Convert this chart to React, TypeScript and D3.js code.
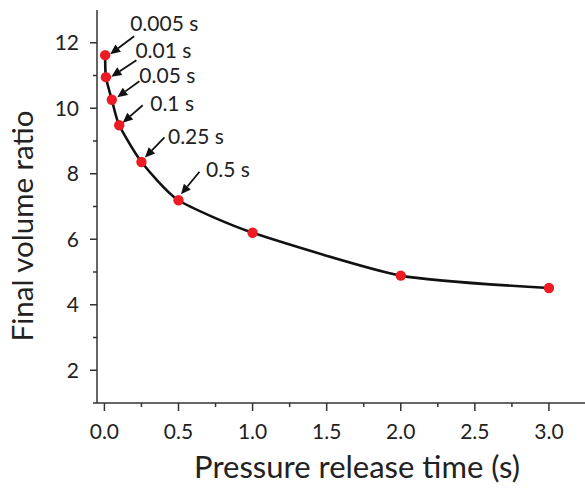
import React, { useEffect, useRef } from "react";
import * as d3 from "d3";

const times = [0.005, 0.01, 0.05, 0.1, 0.25, 0.5, 1.0, 2.0, 3.0];
const volumeRatios = [11.62, 10.95, 10.26, 9.48, 8.36, 7.19, 6.2, 4.89, 4.51];
const annotationLabels = ["0.005 s", "0.01 s", "0.05 s", "0.1 s", "0.25 s", "0.5 s"];
const xMajorTicks = [0, 0.5, 1.0, 1.5, 2.0, 2.5, 3.0];
const xMinorTicks = [0.25, 0.75, 1.25, 1.75, 2.25, 2.75];
const yMajorTicks = [2, 4, 6, 8, 10, 12];
const yMinorTicks = [1, 3, 5, 7, 9, 11];

// layout offsets (pixels) relative to each annotated point: tip, tail, text
const annotationLayout = [
  { tip: [5, -1], tail: [29, -19], text: [25, -24] },
  { tip: [5.5, -0.5], tail: [30.5, -17], text: [29.5, -19] },
  { tip: [5.5, -2.5], tail: [27.5, -18.5], text: [27.5, -17] },
  { tip: [3.5, -2.5], tail: [23.5, -20], text: [31, -14] },
  { tip: [3.5, -4.5], tail: [23, -24.5], text: [26.5, -18] },
  { tip: [2.5, -6], tail: [21, -28.5], text: [27.5, -23] },
];

const W = 585;
const H = 492;
const FONT = "Lato, 'Open Sans', sans-serif";

export default function App() {
  const ref = useRef<SVGSVGElement | null>(null);

  useEffect(() => {
    const svg = d3.select(ref.current);
    svg.selectAll("*").remove();

    const x = d3.scaleLinear().domain([-0.05, 3.25]).range([97, 586]);
    const y = d3.scaleLinear().domain([1, 13]).range([403, 10]);
    const axisColor = "#333";

    // Y axis
    svg.append("line")
      .attr("x1", x(-0.05)).attr("x2", x(-0.05))
      .attr("y1", y(13)).attr("y2", y(1))
      .attr("stroke", axisColor).attr("stroke-width", 1.5);
    svg.selectAll(".ymaj").data(yMajorTicks).enter().append("line")
      .attr("x1", x(-0.05) - 7).attr("x2", x(-0.05))
      .attr("y1", (d) => y(d)).attr("y2", (d) => y(d))
      .attr("stroke", axisColor).attr("stroke-width", 1.5);
    svg.selectAll(".ymin").data(yMinorTicks).enter().append("line")
      .attr("x1", x(-0.05) - 4).attr("x2", x(-0.05))
      .attr("y1", (d) => y(d)).attr("y2", (d) => y(d))
      .attr("stroke", axisColor).attr("stroke-width", 1.5);
    svg.selectAll(".ylab").data(yMajorTicks).enter().append("text")
      .attr("x", x(-0.05) - 18).attr("y", (d) => y(d))
      .attr("dy", "0.36em")
      .attr("text-anchor", "end")
      .attr("font-family", FONT).attr("font-size", 21).attr("fill", "#222")
      .text((d) => String(d));

    // X axis
    svg.append("line")
      .attr("x1", x(-0.05)).attr("x2", W)
      .attr("y1", y(1)).attr("y2", y(1))
      .attr("stroke", axisColor).attr("stroke-width", 1.5);
    svg.selectAll(".xmaj").data(xMajorTicks).enter().append("line")
      .attr("x1", (d) => x(d)).attr("x2", (d) => x(d))
      .attr("y1", y(1)).attr("y2", y(1) + 8)
      .attr("stroke", axisColor).attr("stroke-width", 1.5);
    svg.selectAll(".xmin").data(xMinorTicks).enter().append("line")
      .attr("x1", (d) => x(d)).attr("x2", (d) => x(d))
      .attr("y1", y(1)).attr("y2", y(1) + 4)
      .attr("stroke", axisColor).attr("stroke-width", 1.5);
    svg.selectAll(".xlab").data(xMajorTicks).enter().append("text")
      .attr("x", (d) => x(d)).attr("y", 439)
      .attr("text-anchor", "middle")
      .attr("font-family", FONT).attr("font-size", 21).attr("fill", "#222")
      .text((d) => d3.format(".1f")(d));

    // Axis titles
    svg.append("text")
      .attr("x", 357).attr("y", 478)
      .attr("text-anchor", "middle")
      .attr("font-family", FONT).attr("font-size", 31).attr("fill", "#222")
      .text("Pressure release time (s)");
    svg.append("text")
      .attr("transform", `translate(33,226) rotate(-90)`)
      .attr("text-anchor", "middle")
      .attr("font-family", FONT).attr("font-size", 29.5).attr("fill", "#222")
      .text("Final volume ratio");

    // Line
    const pts: [number, number][] = times.map((t, i) => [t, volumeRatios[i]]);
    const line = d3.line<[number, number]>()
      .x((d) => x(d[0])).y((d) => y(d[1]))
      .curve(d3.curveCardinal.tension(0.4));
    svg.append("path")
      .attr("d", line(pts) || "")
      .attr("fill", "none").attr("stroke", "#111").attr("stroke-width", 2.6);

    // Points
    svg.selectAll(".pt").data(pts).enter().append("circle")
      .attr("cx", (d) => x(d[0])).attr("cy", (d) => y(d[1]))
      .attr("r", 5.2).attr("fill", "#ec1c24");

    // Annotations
    annotationLabels.forEach((label, i) => {
      const px = x(times[i]);
      const py = y(volumeRatios[i]);
      const lay = annotationLayout[i];
      const tx = px + lay.tip[0], ty = py + lay.tip[1];
      const sx = px + lay.tail[0], sy = py + lay.tail[1];
      const dx = sx - tx, dy = sy - ty;
      const len = Math.hypot(dx, dy);
      const ux = dx / len, uy = dy / len;
      const headLen = 10, headW = 4.5;
      const bx = tx + ux * headLen, by = ty + uy * headLen;
      svg.append("line")
        .attr("x1", sx).attr("y1", sy).attr("x2", bx).attr("y2", by)
        .attr("stroke", "#111").attr("stroke-width", 1.8);
      svg.append("polygon")
        .attr("points", `${tx},${ty} ${bx - uy * headW},${by + ux * headW} ${bx + uy * headW},${by - ux * headW}`)
        .attr("fill", "#111");
      svg.append("text")
        .attr("x", px + lay.text[0]).attr("y", py + lay.text[1])
        .attr("font-family", FONT).attr("font-size", 21).attr("fill", "#222")
        .text(label);
    });
  }, []);

  return (
    <svg
      ref={ref}
      width={W}
      height={H}
      style={{ position: "absolute", left: 0, top: 0, background: "#fff" }}
    />
  );
}
